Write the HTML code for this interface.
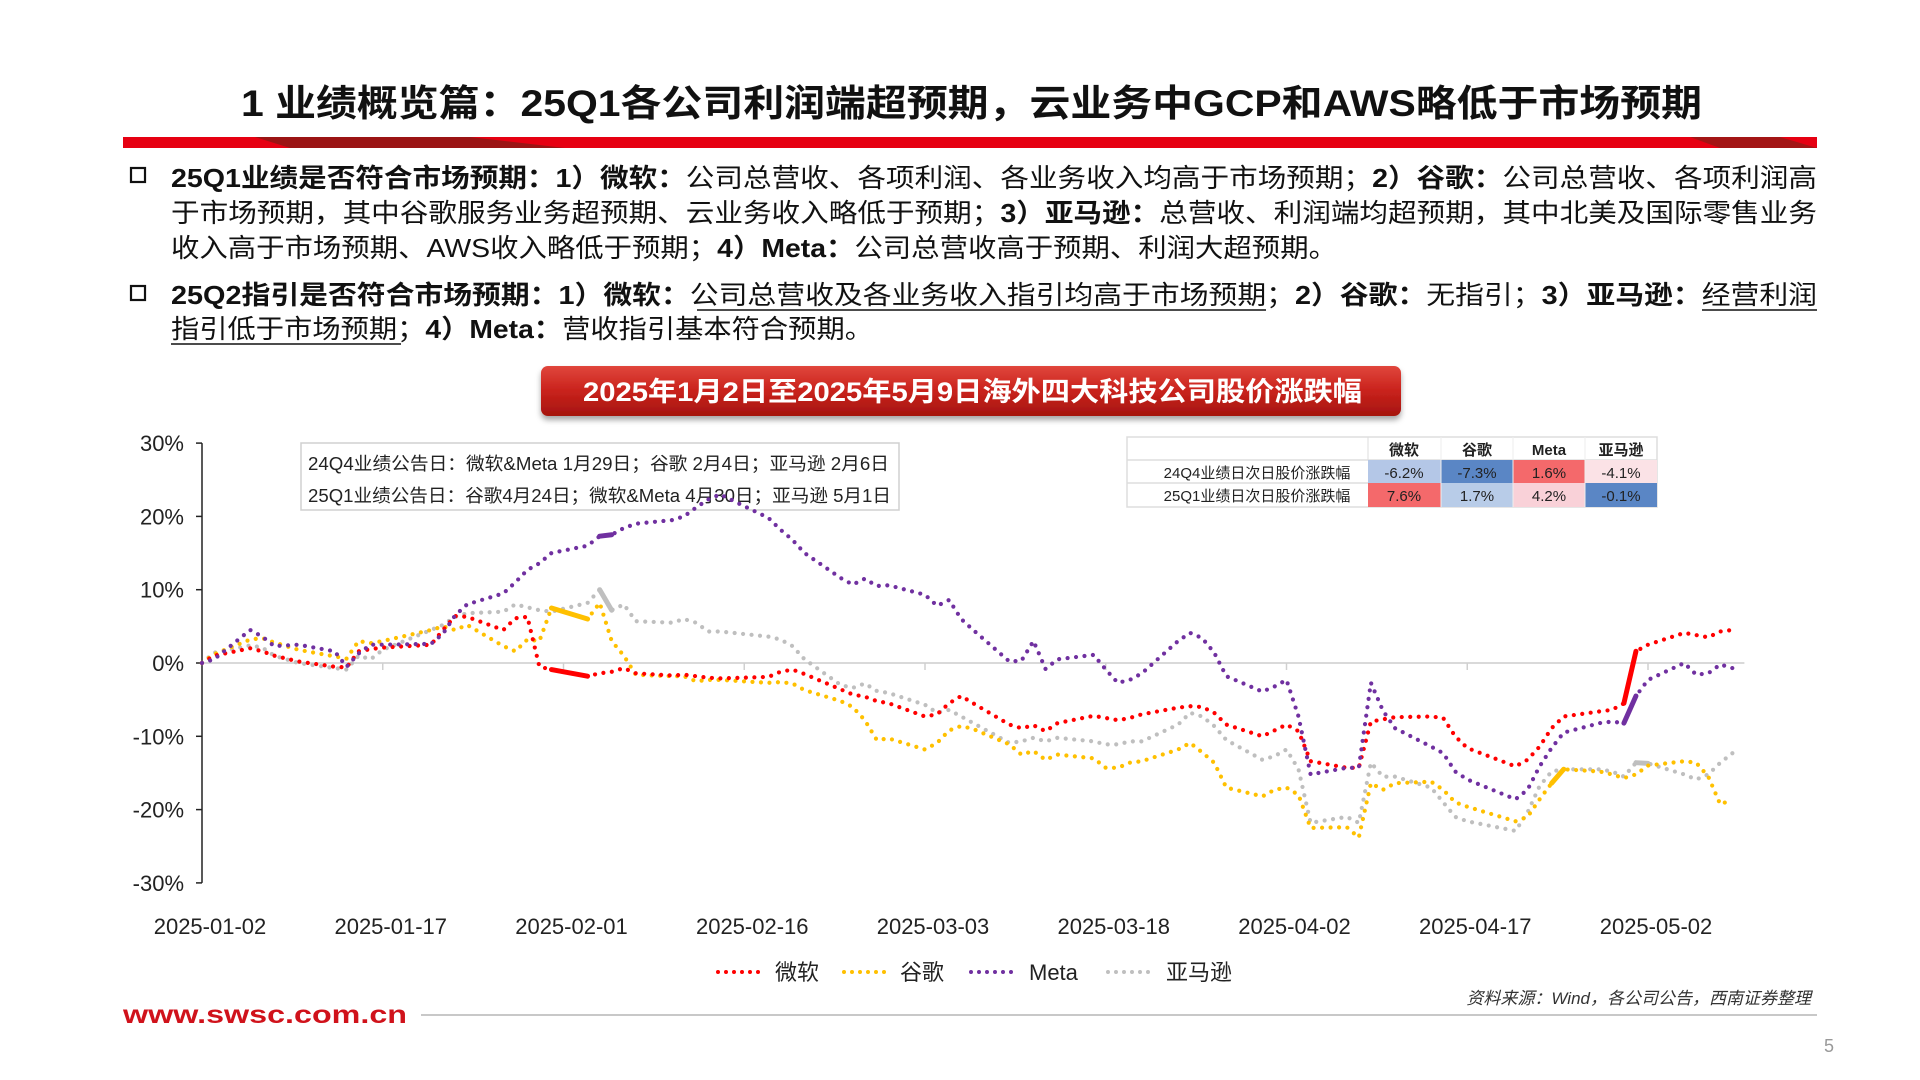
<!DOCTYPE html>
<html><head><meta charset="utf-8"><style>
html,body{margin:0;padding:0;background:#fff;}
svg{display:block;font-family:"Liberation Sans","Noto Sans CJK SC",sans-serif;}
</style></head><body>
<svg id="page" width="1920" height="1080" viewBox="0 0 1920 1080">
<defs>
<linearGradient id="bannerGrad" x1="0" y1="0" x2="0" y2="1"><stop offset="0" stop-color="#e0463c"/><stop offset="0.5" stop-color="#c9221c"/><stop offset="1" stop-color="#a5150f"/></linearGradient>
<filter id="sh" x="-5%" y="-20%" width="110%" height="160%"><feDropShadow dx="0" dy="4" stdDeviation="3" flood-color="#000" flood-opacity="0.35"/></filter>
</defs>
<text x="241" y="116" font-size="37" font-weight="bold" fill="#111" textLength="1461" lengthAdjust="spacingAndGlyphs">1 业绩概览篇：25Q1各公司利润端超预期，云业务中GCP和AWS略低于市场预期</text>
<g>
<rect x="123" y="137" width="1694" height="11" fill="#e60012"/>
<polygon points="255,137 470,137 565,148 290,148" fill="#9b1414"/>
<polygon points="1690,137 1780,137 1817,148 1720,148" fill="#a31515"/>
</g>
<g font-size="26" fill="#111">
<rect x="131" y="168" width="14" height="14" fill="none" stroke="#111" stroke-width="2.2"/>
<text x="171" y="187" textLength="1646" lengthAdjust="spacingAndGlyphs"><tspan font-weight="bold">25Q1业绩是否符合市场预期：1）微软：</tspan>公司总营收、各项利润、各业务收入均高于市场预期；<tspan font-weight="bold">2）谷歌：</tspan>公司总营收、各项利润高</text>
<text x="171" y="222" textLength="1646" lengthAdjust="spacingAndGlyphs">于市场预期，其中谷歌服务业务超预期、云业务收入略低于预期；<tspan font-weight="bold">3）亚马逊：</tspan>总营收、利润端均超预期，其中北美及国际零售业务</text>
<text x="171" y="257" textLength="1166" lengthAdjust="spacingAndGlyphs">收入高于市场预期、AWS收入略低于预期；<tspan font-weight="bold">4）Meta：</tspan>公司总营收高于预期、利润大超预期。</text>
<rect x="131" y="286" width="14" height="14" fill="none" stroke="#111" stroke-width="2.2"/>
<text x="171" y="304" textLength="1646" lengthAdjust="spacingAndGlyphs"><tspan font-weight="bold">25Q2指引是否符合市场预期：1）微软：</tspan>公司总营收及各业务收入指引均高于市场预期；<tspan font-weight="bold">2）谷歌：</tspan>无指引；<tspan font-weight="bold">3）亚马逊：</tspan>经营利润</text>
<text x="171" y="338" textLength="702" lengthAdjust="spacingAndGlyphs">指引低于市场预期；<tspan font-weight="bold">4）Meta：</tspan>营收指引基本符合预期。</text>
<line x1="697" y1="310" x2="1266" y2="310" stroke="#111" stroke-width="1.5"/>
<line x1="1702" y1="310" x2="1817" y2="310" stroke="#111" stroke-width="1.5"/>
<line x1="171" y1="344" x2="401" y2="344" stroke="#111" stroke-width="1.5"/>
</g>
<g>
<rect x="541" y="366" width="860" height="50" rx="7" fill="url(#bannerGrad)" filter="url(#sh)"/>
<text x="583" y="401" font-size="27" font-weight="bold" fill="#fff" textLength="779" lengthAdjust="spacingAndGlyphs">2025年1月2日至2025年5月9日海外四大科技公司股价涨跌幅</text>
</g>
<g>
<rect x="301" y="443" width="598" height="67" fill="#fff" stroke="#d0d0d0" stroke-width="1.5"/>
<text x="308" y="470" font-size="18" fill="#222" textLength="581" lengthAdjust="spacingAndGlyphs">24Q4业绩公告日：微软&amp;Meta 1月29日；谷歌 2月4日；亚马逊 2月6日</text>
<text x="308" y="502" font-size="18" fill="#222" textLength="583" lengthAdjust="spacingAndGlyphs">25Q1业绩公告日：谷歌4月24日；微软&amp;Meta 4月30日；亚马逊 5月1日</text>
</g>
<g id="chart"></g>
<g font-size="15" text-anchor="middle" fill="#222">
<rect x="1127" y="437" width="530" height="70" fill="#fff" stroke="#ddd" stroke-width="1.5"/>
<line x1="1127" y1="460" x2="1657" y2="460" stroke="#ddd" stroke-width="1.5"/>
<line x1="1127" y1="483" x2="1657" y2="483" stroke="#ddd" stroke-width="1.5"/>
<rect x="1368" y="460" width="73" height="23" fill="#b4c7e7"/><rect x="1441" y="460" width="72" height="23" fill="#5a86c5"/><rect x="1513" y="460" width="72" height="23" fill="#f4696b"/><rect x="1585" y="460" width="72" height="23" fill="#fbe2e6"/>
<rect x="1368" y="483" width="73" height="24" fill="#f4696b"/><rect x="1441" y="483" width="72" height="24" fill="#b8cce8"/><rect x="1513" y="483" width="72" height="24" fill="#f9d1d8"/><rect x="1585" y="483" width="72" height="24" fill="#5a86c5"/>
<line x1="1368" y1="437" x2="1368" y2="460" stroke="#ddd"/><line x1="1441" y1="437" x2="1441" y2="507" stroke="#eee"/><line x1="1513" y1="437" x2="1513" y2="507" stroke="#eee"/><line x1="1585" y1="437" x2="1585" y2="507" stroke="#eee"/>
<g font-weight="bold"><text x="1404" y="455">微软</text><text x="1477" y="455">谷歌</text><text x="1549" y="455">Meta</text><text x="1621" y="455">亚马逊</text></g>
<text x="1257" y="478">24Q4业绩日次日股价涨跌幅</text><text x="1257" y="501">25Q1业绩日次日股价涨跌幅</text>
<text x="1404" y="478">-6.2%</text><text x="1477" y="478">-7.3%</text><text x="1549" y="478">1.6%</text><text x="1621" y="478">-4.1%</text>
<text x="1404" y="501">7.6%</text><text x="1477" y="501">1.7%</text><text x="1549" y="501">4.2%</text><text x="1621" y="501">-0.1%</text>
</g>
<g font-size="22" fill="#222">
<g><line x1="718" y1="972" x2="765" y2="972" stroke="#ff0000" stroke-width="4" stroke-linecap="round" stroke-dasharray="0 8"/><text x="775" y="980">微软</text></g>
<g><line x1="844" y1="972" x2="891" y2="972" stroke="#ffc000" stroke-width="4" stroke-linecap="round" stroke-dasharray="0 8"/><text x="900" y="980">谷歌</text></g>
<g><line x1="971" y1="972" x2="1019" y2="972" stroke="#7030a0" stroke-width="4" stroke-linecap="round" stroke-dasharray="0 8"/><text x="1029" y="980">Meta</text></g>
<g><line x1="1108" y1="972" x2="1155" y2="972" stroke="#bfbfbf" stroke-width="4" stroke-linecap="round" stroke-dasharray="0 8"/><text x="1166" y="980">亚马逊</text></g>
</g>
<text x="1811" y="1004" font-size="17" font-style="italic" fill="#333" text-anchor="end">资料来源：Wind，各公司公告，西南证券整理</text>
<text x="123" y="1023" font-size="25" font-weight="bold" fill="#d0121b" textLength="284" lengthAdjust="spacingAndGlyphs">www.swsc.com.cn</text>
<line x1="421" y1="1015" x2="1817" y2="1015" stroke="#c8c8c8" stroke-width="2"/>
<text x="1824" y="1052" font-size="18" fill="#999">5</text>
</svg>
<script>
// calendar-day offsets from 2025-01-02 for each trading day
const days=[0,1,4,5,6,8,11,12,13,14,15,19,20,21,22,25,26,27,28,29,32,33,34,35,36,39,40,41,42,43,47,48,49,50,53,54,55,56,57,60,61,62,63,64,67,68,69,70,71,74,75,76,77,78,81,82,83,84,85,88,89,90,91,92,95,96,97,98,99,102,103,104,105,109,110,111,112,113,116,117,118,119,120,123,124,125,126,127];
const msft=[0,1,2,1.6,1,0.2,-0.5,-0.6,1.6,1.9,2.1,2.5,4.5,6.4,6.3,4.5,6.1,6.3,-0.5,-0.9,-1.8,-1.4,-1.2,-0.7,-1.4,-1.7,-1.6,-1.8,-2,-2.1,-1.9,-1.2,-0.9,-1.5,-3.6,-4.3,-4.6,-5.2,-5.5,-7.3,-7,-5.5,-4.5,-5.5,-8.4,-8.9,-8.5,-9.3,-8.2,-7.2,-7.5,-7.8,-7.5,-7,-6.1,-5.9,-6,-6.8,-8.4,-10,-9.2,-8.4,-9.3,-13.4,-14.3,-14.3,-8,-7.7,-7.4,-7.3,-7.5,-10,-11.6,-14.1,-13.2,-11.4,-8.9,-7.3,-6.6,-6.4,-5.5,1.6,2.5,4.1,3.8,3.5,4.3,4.5];
const googl=[0,1.2,3.2,3.4,2.8,1.8,0.9,0.6,3,2.7,3,4.5,5,4.5,5.2,2.3,1.6,3.2,3,7.5,6,8.2,3,1,-1.6,-1.8,-1.8,-2.5,-2.3,-2.3,-2.7,-2.6,-2.8,-3.7,-5.2,-6,-7.8,-10.5,-10.3,-11.8,-10.9,-9.2,-8.6,-9,-11.1,-12.5,-12,-13.2,-12.5,-13,-14.3,-14.3,-13.6,-13.4,-11.8,-10.9,-12.2,-13.6,-17,-18.2,-17.3,-17,-18,-22.5,-22.4,-23.8,-16.4,-17.3,-16.4,-16.2,-17.3,-19,-19.6,-21.6,-21,-18.6,-16.4,-14.5,-14.8,-15.2,-15.7,-15.2,-14,-13.4,-13.6,-15.5,-19.3,-18.6];
const meta=[0,0.5,4.5,3.6,2.3,2.5,1.6,-0.5,1.3,2.5,2.5,2.6,4,6.5,8,9.5,11,12.7,13.6,15,16,17.3,17.5,18.4,19,19.5,20,21.2,22.3,23,19.8,18.2,16.8,15,11.6,10.7,11.5,10.5,10.6,9.3,7.8,8.6,6,4.5,0.2,0.3,3,-0.8,0.5,1.1,-0.9,-2.7,-2.3,-1.4,3,4.1,3.4,1.4,-1.8,-3.9,-3.2,-2.3,-7.3,-15.2,-14.3,-14.3,-2.7,-6.5,-8.9,-11.4,-12.3,-14.8,-15.9,-18.6,-17.3,-14.1,-11.6,-9.5,-8.2,-8,-8.2,-4.5,-2.3,0,-1.6,-1.4,-0.2,-0.7];
const amzn=[0,1.4,2.4,2.1,1,0,-0.7,-0.9,1,0.5,1.8,4.5,5.2,6.3,6.8,7,8,7.6,7.2,7,8.2,10,7.2,8,5.7,5.5,6,5.5,4.3,4.3,3.6,3.2,2.3,0.5,-3,-3.4,-2.8,-3.8,-4.1,-5.7,-6.8,-6.4,-7.3,-8.2,-10.9,-10.7,-10.2,-10.7,-10.2,-10.7,-11.1,-11.1,-10.7,-10.7,-8.4,-6.8,-7.3,-8.6,-10.5,-13.2,-12.7,-11.8,-14.5,-21.8,-21,-21.8,-13.6,-15.5,-15.5,-17,-19,-21,-21.6,-22.9,-20.4,-16.8,-14.8,-14.5,-14.5,-14.8,-15.5,-13.6,-13.7,-15.2,-15.9,-15.2,-13.6,-12.3];
// index of trading day where earnings-reaction (solid) segment starts
const msftEarn=[19,80];
const googlEarn=[19,76];
const metaEarn=[21,80];
const amznEarn=[21,81];
const yTicks=[30,20,10,0,-10,-20,-30];
const xTickDays=[0,15,30,45,60,75,90,105,120];
const xTickLabels=["2025-01-02","2025-01-17","2025-02-01","2025-02-16","2025-03-03","2025-03-18","2025-04-02","2025-04-17","2025-05-02"];

const NS="http://www.w3.org/2000/svg";
const X0=202, PXD=12.05, Y0=663, PXP=7.33;
const xs=d=>X0+d*PXD;
const ys=v=>Y0-v*PXP;
const g=document.getElementById('chart');
function mk(tag,attrs,parent){const e=document.createElementNS(NS,tag);for(const k in attrs)e.setAttribute(k,attrs[k]);(parent||g).appendChild(e);return e;}

const zl=mk('line',{x1:X0,y1:ys(0),x2:xs(128),y2:ys(0),stroke:'#d9d9d9','stroke-width':2});


const ya=mk('line',{x1:X0,y1:ys(30),x2:X0,y2:ys(-30),stroke:'#222','stroke-width':1.5});


yTicks.forEach(t=>{
  mk('line',{x1:X0-6,y1:ys(t),x2:X0,y2:ys(t),stroke:'#222','stroke-width':1.5});
  const tx=mk('text',{x:X0-18,y:ys(t)+8,'font-size':22,'text-anchor':'end',fill:'#222'});
  tx.textContent=t+'%';
  
  
});
xTickDays.forEach((d,i)=>{
  if(i>0)mk('line',{x1:xs(d),y1:ys(0),x2:xs(d),y2:ys(0)+7,stroke:'#d0d0d0','stroke-width':1.5});
  const tx=mk('text',{x:xs(d)+8,y:934,'font-size':22,'text-anchor':'middle',fill:'#222'});
  tx.textContent=xTickLabels[i];
  
  
});
function series(vals,color,earn,name){
  const pts=vals.map((v,i)=>xs(days[i]).toFixed(1)+','+ys(v).toFixed(1)).join(' ');
  const pl=mk('polyline',{points:pts,fill:'none',stroke:color,'stroke-width':4.2,'stroke-linecap':'round','stroke-dasharray':'0 8.5'});
  
  
  earn.forEach(i=>{
    const s=mk('line',{x1:xs(days[i]),y1:ys(vals[i]),x2:xs(days[i+1]),y2:ys(vals[i+1]),stroke:color,'stroke-width':5,'stroke-linecap':'round'});
    
    
  });
}
series(amzn,'#bfbfbf',amznEarn,'amazon');
series(googl,'#ffc000',googlEarn,'google');
series(msft,'#ff0000',msftEarn,'msft');
series(meta,'#7030a0',metaEarn,'meta');
</script>
</body></html>
